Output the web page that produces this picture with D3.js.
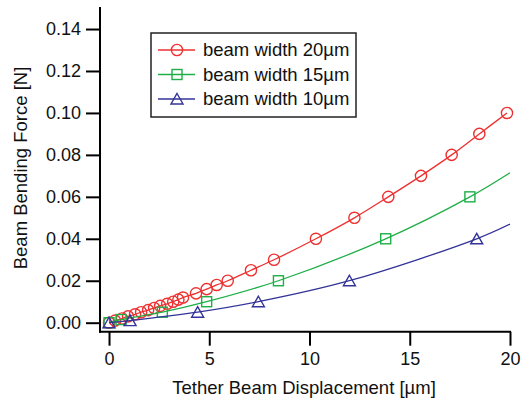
<!DOCTYPE html>
<html>
<head>
<meta charset="utf-8">
<script src="https://cdn.jsdelivr.net/npm/d3@7"></script>
<style>
  body { margin: 0; background: #fff; }
  text { font-family: "Liberation Sans", Arial, Helvetica, sans-serif; fill: #111; }
</style>
</head>
<body>
<svg id="chart" width="521" height="405"></svg>
<script>
// marker points [displacement um, force N]
const w20Pts = [
  [0, 0], [0.3, 0.001], [0.65, 0.002], [0.95, 0.003], [1.3, 0.004], [1.6, 0.005],
  [1.95, 0.006], [2.25, 0.007], [2.55, 0.008], [2.9, 0.009], [3.2, 0.010],
  [3.46, 0.011], [3.69, 0.012], [4.34, 0.014], [4.87, 0.016], [5.37, 0.018],
  [5.92, 0.020], [7.08, 0.025], [8.23, 0.030], [10.32, 0.040], [12.24, 0.050],
  [13.93, 0.060], [15.56, 0.070], [17.09, 0.080], [18.47, 0.090], [19.85, 0.100]
];
const w15Pts = [[0, 0], [0.6, 0.0015], [2.66, 0.005], [4.87, 0.010], [8.45, 0.020], [13.8, 0.040], [18.0, 0.060]];
const w10Pts = [[0, 0], [1.05, 0.001], [4.42, 0.005], [7.45, 0.010], [11.99, 0.020], [18.34, 0.040]];
// the fitted curves run on to the right edge
const w15End = [20, 0.0715];
const w10End = [20, 0.047];

const xTicks = [0, 5, 10, 15, 20];
const yTicks = [0, 0.02, 0.04, 0.06, 0.08, 0.10, 0.12, 0.14];

const series = [
  { label: "beam width 20\u00b5m", color: "#ee3030", pts: w20Pts, line: w20Pts, shape: "circle" },
  { label: "beam width 15\u00b5m", color: "#1fae48", pts: w15Pts, line: w15Pts.concat([w15End]), shape: "square" },
  { label: "beam width 10\u00b5m", color: "#333399", pts: w10Pts, line: w10Pts.concat([w10End]), shape: "triangle" }
];

const svg = d3.select("#chart");

const x = d3.scaleLinear().domain([-0.45, 20.05]).range([100, 511]);
const y = d3.scaleLinear().domain([0, 0.1505]).range([322.7, 7]);
const axisY0 = 331.7; // x axis sits a little below zero

// markers
function marker(sel, shape, color) {
  if (shape === "circle") {
    sel.append("circle").attr("r", 5.6);
  } else if (shape === "square") {
    sel.append("rect").attr("x", -5).attr("y", -5).attr("width", 10).attr("height", 10);
  } else {
    sel.append("path").attr("d", "M0,-5.5L6,5L-6,5Z");
  }
  sel.selectAll("*")
    .attr("fill", "none")
    .attr("stroke", color)
    .attr("stroke-width", 1.4);
}

const line = d3.line()
  .x((d) => x(d[0]))
  .y((d) => y(d[1]))
  .curve(d3.curveCatmullRom.alpha(0.5));

series.forEach((s) => {
  svg.append("path")
    .attr("d", line(s.line))
    .attr("fill", "none")
    .attr("stroke", s.color)
    .attr("stroke-width", 1.3);

  svg.selectAll(null)
    .data(s.pts)
    .join("g")
    .attr("transform", (d) => `translate(${x(d[0])},${y(d[1])})`)
    .each(function () {
      marker(d3.select(this), s.shape, s.color);
    });
});

// axes
const yAxis = d3.axisLeft(y)
  .tickValues(yTicks)
  .tickFormat(d3.format(".2f"))
  .tickSize(14)
  .tickPadding(5);
const gy = svg.append("g").attr("transform", "translate(100,0)").call(yAxis);
gy.select(".domain").remove();
gy.selectAll(".tick line").attr("stroke", "#000").attr("stroke-width", 2);
gy.selectAll(".tick text").style("font-size", "18px").attr("fill", "#111");

const xAxis = d3.axisBottom(x)
  .tickValues(xTicks)
  .tickSize(14)
  .tickPadding(7);
const gx = svg.append("g").attr("transform", `translate(0,${axisY0})`).call(xAxis);
gx.select(".domain").remove();
gx.selectAll(".tick line").attr("stroke", "#000").attr("stroke-width", 2);
gx.selectAll(".tick text").style("font-size", "18px").attr("fill", "#111");

svg.append("line")
  .attr("x1", x.range()[0]).attr("x2", x.range()[0])
  .attr("y1", y.range()[1]).attr("y2", axisY0 + 1)
  .attr("stroke", "#000").attr("stroke-width", 2);
svg.append("line")
  .attr("x1", x.range()[0] - 1).attr("x2", x.range()[1])
  .attr("y1", axisY0).attr("y2", axisY0)
  .attr("stroke", "#000").attr("stroke-width", 2);

// titles
svg.append("text")
  .attr("x", 304)
  .attr("y", 394)
  .attr("text-anchor", "middle")
  .style("font-size", "18.5px")
  .text("Tether Beam Displacement [\u00b5m]");

svg.append("text")
  .attr("transform", "translate(26.5,168) rotate(-90)")
  .attr("text-anchor", "middle")
  .style("font-size", "18.5px")
  .text("Beam Bending Force [N]");

// legend
const legend = svg.append("g");
legend.append("rect")
  .attr("x", 151).attr("y", 33)
  .attr("width", 205).attr("height", 84)
  .attr("fill", "#fff")
  .attr("stroke", "#222")
  .attr("stroke-width", 1.5);

const rows = legend.selectAll(".row")
  .data(series)
  .join("g")
  .attr("class", "row")
  .attr("transform", (d, i) => `translate(158,${50 + i * 24.5})`);

rows.append("line")
  .attr("x1", 0).attr("x2", 37)
  .attr("stroke", (d) => d.color)
  .attr("stroke-width", 1.3);
rows.append("g")
  .attr("transform", "translate(19,0)")
  .each(function (d) {
    marker(d3.select(this), d.shape, d.color);
  });
rows.append("text")
  .attr("x", 45)
  .attr("dy", "0.35em")
  .style("font-size", "18.5px")
  .text((d) => d.label);
</script>
</body>
</html>
